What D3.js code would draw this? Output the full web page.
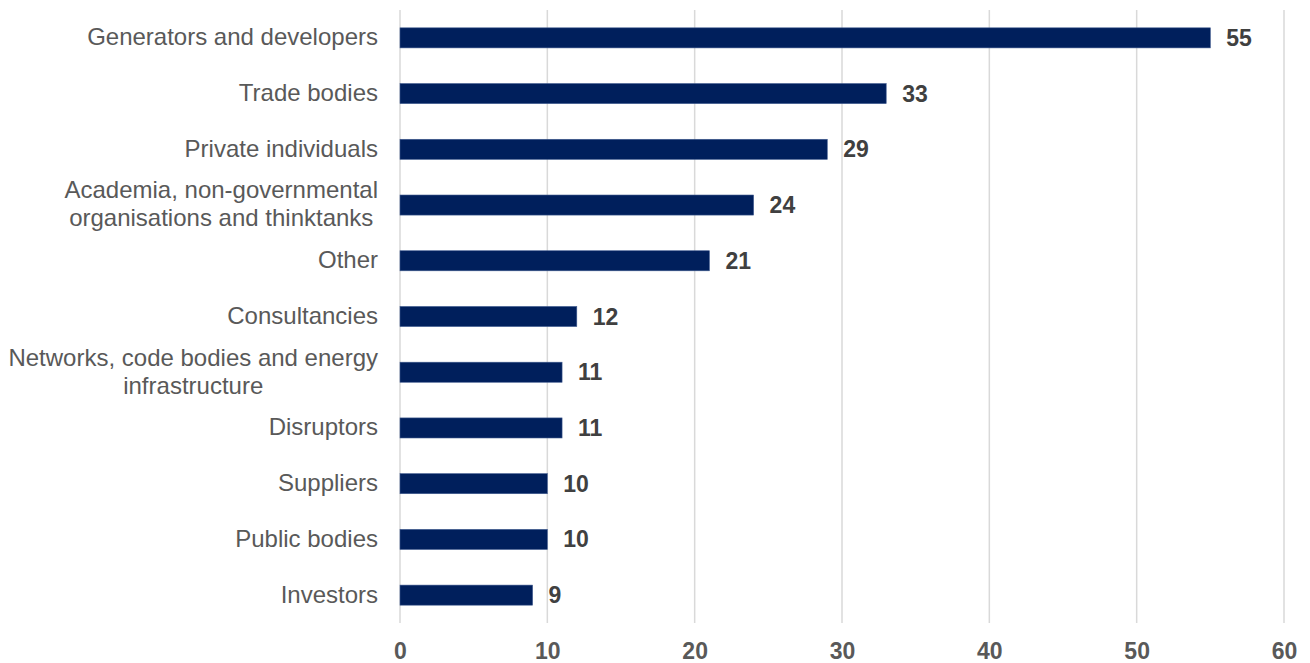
<!DOCTYPE html>
<html>
<head>
<meta charset="utf-8">
<script src="https://cdn.jsdelivr.net/npm/d3@7"></script>
<style>
  html, body { margin: 0; padding: 0; background: #fff; }
  svg { display: block; }
  text { font-family: "Liberation Sans", Arial, sans-serif; }
</style>
</head>
<body>
<svg id="chart" width="1310" height="663"></svg>
<script>
// Respondent groups (top to bottom) and their response counts
const categories = [
  ["Generators and developers"],
  ["Trade bodies"],
  ["Private individuals"],
  ["Academia, non-governmental", "organisations and thinktanks"],
  ["Other"],
  ["Consultancies"],
  ["Networks, code bodies and energy", "infrastructure"],
  ["Disruptors"],
  ["Suppliers"],
  ["Public bodies"],
  ["Investors"]
];
const counts = [55, 33, 29, 24, 21, 12, 11, 11, 10, 10, 9];
const xTicks = [0, 10, 20, 30, 40, 50, 60];

const rows = categories.map((lines, i) => ({ key: i, lines, value: counts[i] }));

const svg = d3.select("#chart");
const plotLeft = 400, plotRight = 1284, plotTop = 10, plotBottom = 623;
const labelRight = 378;

const x = d3.scaleLinear().domain([0, 60]).range([plotLeft, plotRight]);
const y = d3.scaleBand().domain(rows.map(d => d.key)).range([plotTop, plotBottom]).paddingInner(0.64).paddingOuter(0.32);

// vertical gridlines
svg.append("g")
  .selectAll("line")
  .data(xTicks)
  .join("line")
  .attr("x1", d => x(d)).attr("x2", d => x(d))
  .attr("y1", plotTop).attr("y2", plotBottom)
  .attr("stroke", "#d9d9d9")
  .attr("stroke-width", 1.5);

// x axis tick labels
const xAxis = d3.axisBottom(x).tickValues(xTicks).tickSize(0).tickPadding(0);
const gx = svg.append("g").attr("transform", `translate(0,${plotBottom})`).call(xAxis);
gx.select(".domain").remove();
gx.selectAll("text")
  .attr("y", 28)
  .attr("dy", "0.35em")
  .attr("fill", "#595959")
  .style("font-size", "23px")
  .style("font-weight", "bold")
  .style("font-family", "'Liberation Sans', Arial, sans-serif");

// bars
svg.append("g")
  .selectAll("rect")
  .data(rows)
  .join("rect")
  .attr("x", x(0))
  .attr("y", d => y(d.key))
  .attr("width", d => x(d.value) - x(0))
  .attr("height", y.bandwidth())
  .attr("fill", "#001f5c")
  .attr("stroke", "#3f5a8f")
  .attr("stroke-width", 0.6);

// value labels
svg.append("g")
  .selectAll("text")
  .data(rows)
  .join("text")
  .attr("x", d => x(d.value) + 16)
  .attr("y", d => y(d.key) + y.bandwidth() / 2)
  .attr("dy", "0.35em")
  .attr("fill", "#404040")
  .style("font-size", "23px")
  .style("font-weight", "bold")
  .text(d => d.value);

// category labels: each block is right-aligned to the plot, wrapped lines centred within it
const lineH = 28;
const cat = svg.append("g")
  .selectAll("text")
  .data(rows)
  .join("text")
  .attr("text-anchor", "middle")
  .attr("fill", "#595959")
  .style("font-size", "24px")
  .attr("y", d => y(d.key) + y.bandwidth() / 2 - (d.lines.length - 1) * lineH / 2 - 1);
cat.selectAll("tspan")
  .data(d => d.lines)
  .join("tspan")
  .attr("dy", (l, i) => i === 0 ? "0.35em" : lineH)
  .text(l => l);
cat.each(function () {
  const spans = d3.select(this).selectAll("tspan");
  let maxW = 0;
  spans.each(function () { maxW = Math.max(maxW, this.getComputedTextLength()); });
  spans.attr("x", labelRight - maxW / 2);
});
</script>
</body>
</html>
